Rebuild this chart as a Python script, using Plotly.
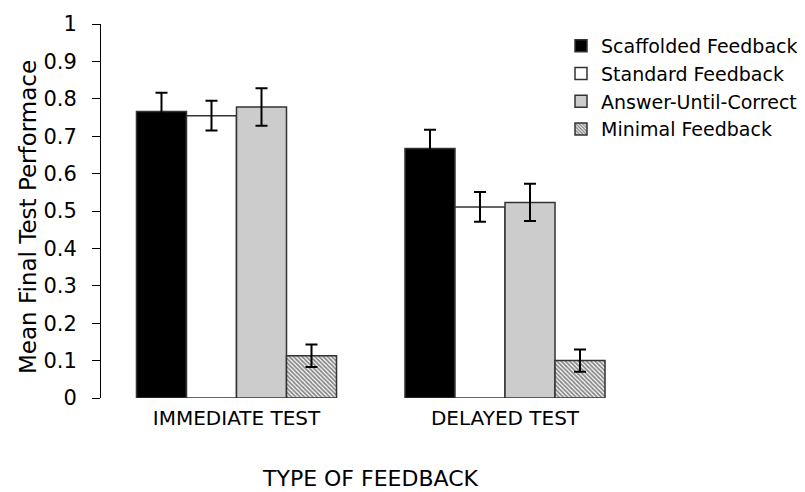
import plotly.graph_objects as go

categories = ["IMMEDIATE TEST", "DELAYED TEST"]
series_names = ["Scaffolded Feedback", "Standard Feedback", "Answer-Until-Correct", "Minimal Feedback"]
scaffolded = [0.766, 0.667]
standard = [0.755, 0.511]
answer_until = [0.778, 0.523]
minimal = [0.113, 0.100]
scaffolded_err = [0.05, 0.05]
standard_err = [0.04, 0.04]
answer_until_err = [0.05, 0.05]
minimal_err = [0.03, 0.03]
y_ticks = [0, 0.1, 0.2, 0.3, 0.4, 0.5, 0.6, 0.7, 0.8, 0.9, 1]

FONT = "DejaVu Sans"
OFF = 8  # default page body margin
W, H = 805 - OFF, 492 - OFF
# plot area in page pixels: x 101..774, y 24..398
L, R, T, B = 101 - OFF, 805 - 774, 24 - OFF, 492 - 398

values = [scaffolded, standard, answer_until, minimal]
errors = [scaffolded_err, standard_err, answer_until_err, minimal_err]
fills = ["black", "white", "#cccccc", "white"]

fig = go.Figure()
for i, (name, v, e, c) in enumerate(zip(series_names, values, errors, fills)):
    marker = dict(color=c, line=dict(color="#333333", width=1.5))
    if i == 3:
        marker["pattern"] = dict(shape="\\", size=3, solidity=0.6,
                                 fgcolor="#111111", bgcolor="white", fillmode="overlay")
    fig.add_trace(go.Bar(
        name=name, x=categories, y=v, marker=marker,
        error_y=dict(type="data", array=e, visible=True, color="black",
                     thickness=2, width=6),
    ))

pw = 774 - 101
ph = 398 - 24
unit = 268.5  # px per category
x_lo = -(236.5 - 101) / unit
x_hi = (774 - 236.5) / unit

fig.update_layout(
    width=W, height=H,
    margin=dict(l=L, r=R, t=T, b=B, autoexpand=False),
    paper_bgcolor="white", plot_bgcolor="white",
    barmode="group", bargap=0.255, bargroupgap=0,
    font=dict(family=FONT, color="black"),
    showlegend=True,
    legend=dict(x=(803 - 101) / pw, y=(398 - 27) / ph, xanchor="right", yanchor="top",
                font=dict(family=FONT, size=19, color="black"),
                bgcolor="rgba(0,0,0,0)", borderwidth=0, tracegroupgap=0),
)
fig.update_yaxes(range=[0, 1], tickvals=y_ticks, ticks="outside", ticklen=8,
                 tickcolor="black", tickwidth=1, showline=True, linecolor="black",
                 linewidth=1, showgrid=False, zeroline=False,
                 tickfont=dict(family=FONT, size=21, color="black"),
                 ticklabelstandoff=11)
fig.update_xaxes(range=[x_lo, x_hi], showline=False, ticks="", showgrid=False,
                 zeroline=False,
                 tickfont=dict(family=FONT, size=20, color="black"),
                 ticklabelstandoff=6)

fig.add_annotation(text="Mean Final Test Performace", textangle=-90,
                   xref="paper", yref="paper", x=(28 - 101) / pw, y=(398 - 217) / ph,
                   xanchor="center", yanchor="middle", showarrow=False,
                   font=dict(family=FONT, size=23, color="black"))
fig.add_annotation(text="TYPE OF FEEDBACK",
                   xref="paper", yref="paper", x=(370 - 101) / pw, y=-(478 - 398) / ph,
                   xanchor="center", yanchor="middle", showarrow=False,
                   font=dict(family=FONT, size=22, color="black"))

fig.write_html("out.html")
